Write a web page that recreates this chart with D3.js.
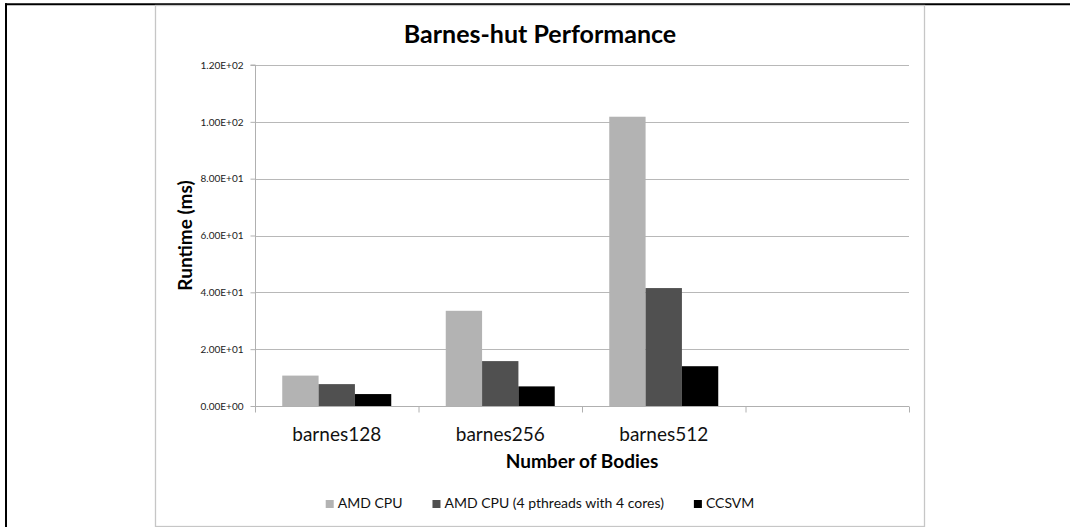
<!DOCTYPE html>
<html lang="en">
<head>
    <meta charset="UTF-8">
    <title>Barnes-hut Performance</title>
    <script src="https://d3js.org/d3.v7.min.js"></script>
    <style>
        html, body { margin: 0; padding: 0; background: #fff; }
        svg { display: block; font-family: Lato, "Open Sans", sans-serif; }
    </style>
</head>
<body>
    <svg id="main" width="1070" height="527"></svg>
    <script>
        // data
        const categories = ["barnes128", "barnes256", "barnes512", ""]
        const seriesNames = ["AMD CPU", "AMD CPU (4 pthreads with 4 cores)", "CCSVM"]
        const amdCpu = [10.7, 33.5, 101.8]
        const amdCpu4 = [7.7, 15.8, 41.5]
        const ccsvm = [4.2, 6.9, 14.0]
        const yTicks = [0, 20, 40, 60, 80, 100, 120]
        const colors = ["#b3b3b3", "#505050", "#000000"]

        const seriesValues = [amdCpu, amdCpu4, ccsvm]
        const svg = d3.select("#main")

        // outer black border (top + left)
        svg.append("line").attr("x1", 5).attr("x2", 1070).attr("y1", 4.3).attr("y2", 4.3)
            .attr("stroke", "#000").attr("stroke-width", 2)
        svg.append("line").attr("x1", 6).attr("x2", 6).attr("y1", 3.3).attr("y2", 527)
            .attr("stroke", "#000").attr("stroke-width", 2)

        // chart frame
        svg.append("rect").attr("x", 155.5).attr("y", 5.5).attr("width", 769).attr("height", 521)
            .attr("fill", "none").attr("stroke", "#c6c6c6").attr("stroke-width", 1.3)

        const plotL = 255, plotR = 909, plotT = 65, plotB = 406

        const x = d3.scaleBand().domain(categories).range([plotL, plotR])
            .paddingInner(1 / 3).paddingOuter(1 / 6)
        const xs = d3.scaleBand().domain(d3.range(seriesNames.length)).range([0, x.bandwidth()])
        const y = d3.scaleLinear().domain([0, 120]).range([plotB, plotT])

        // gridlines
        svg.append("g").selectAll("line").data(yTicks.filter(d => d > 0)).join("line")
            .attr("x1", plotL).attr("x2", plotR)
            .attr("y1", d => Math.round(y(d)) + 0.5).attr("y2", d => Math.round(y(d)) + 0.5)
            .attr("stroke", "#b8b8b8").attr("stroke-width", 1.2)

        // y axis
        const yAxis = svg.append("g").attr("transform", `translate(${plotL + 0.5},0)`)
            .call(d3.axisLeft(y).tickValues(yTicks).tickSize(5).tickPadding(7)
                .tickFormat(d => d.toExponential(2).toUpperCase().replace(/E([+-])(\d)$/, "E$10$2")))
        yAxis.select(".domain").attr("stroke", "#b0b0b0").attr("d", `M-5,${plotT}H0V${plotB}`)
        yAxis.selectAll(".tick line").attr("stroke", "#b0b0b0")
        yAxis.selectAll(".tick text").attr("font-family", "Lato, sans-serif").attr("font-size", 10)
            .attr("fill", "#222")

        // bars
        const groups = svg.append("g").selectAll("g").data(seriesValues).join("g")
            .attr("fill", (d, i) => colors[i])
        groups.selectAll("rect").data((vals, si) => vals.map((v, ci) => ({ v, ci, si }))).join("rect")
            .attr("x", d => x(categories[d.ci]) + xs(d.si))
            .attr("width", xs.bandwidth())
            .attr("y", d => y(d.v))
            .attr("height", d => plotB - y(d.v))

        // x axis with ticks on category boundaries
        const xAxis = svg.append("g").attr("transform", `translate(0,${plotB + 0.5})`)
        xAxis.append("line").attr("x1", plotL).attr("x2", plotR).attr("stroke", "#b0b0b0").attr("stroke-width", 1.2)
        const step = x.step()
        xAxis.selectAll(".btick").data(d3.range(categories.length + 1)).join("line")
            .attr("class", "btick")
            .attr("x1", i => plotL + i * step + 0.5).attr("x2", i => plotL + i * step + 0.5)
            .attr("y1", 0).attr("y2", 6).attr("stroke", "#b0b0b0")
        xAxis.selectAll("text").data(categories).join("text")
            .attr("x", d => x(d) + x.bandwidth() / 2).attr("y", 34)
            .attr("text-anchor", "middle").attr("font-size", 19).attr("fill", "#111")
            .text(d => d)

        // titles
        svg.append("text").attr("x", 540).attr("y", 43).attr("text-anchor", "middle")
            .attr("font-size", 25).attr("font-weight", "bold").text("Barnes-hut Performance")
        svg.append("text").attr("x", (plotL + plotR) / 2).attr("y", 468).attr("text-anchor", "middle")
            .attr("font-size", 19).attr("font-weight", "bold").text("Number of Bodies")
        svg.append("text").attr("transform", `translate(192,${(plotT + plotB) / 2}) rotate(-90)`)
            .attr("text-anchor", "middle").attr("font-size", 19).attr("font-weight", "bold")
            .text("Runtime (ms)")

        // legend
        const legend = svg.append("g")
        const items = legend.selectAll("g").data(seriesNames).join("g")
        items.append("rect").attr("width", 8).attr("height", 8).attr("y", -8)
            .attr("fill", (d, i) => colors[i])
        items.append("text").attr("x", 12).attr("font-size", 14).attr("fill", "#111").text(d => d)
        let cx = 0
        items.each(function () {
            const w = 12 + d3.select(this).select("text").node().getComputedTextLength()
            d3.select(this).attr("transform", `translate(${cx},0)`)
            cx += w + 30
        })
        const total = cx - 30
        legend.attr("transform", `translate(${540 - total / 2},508)`)
    </script>
</body>
</html>
